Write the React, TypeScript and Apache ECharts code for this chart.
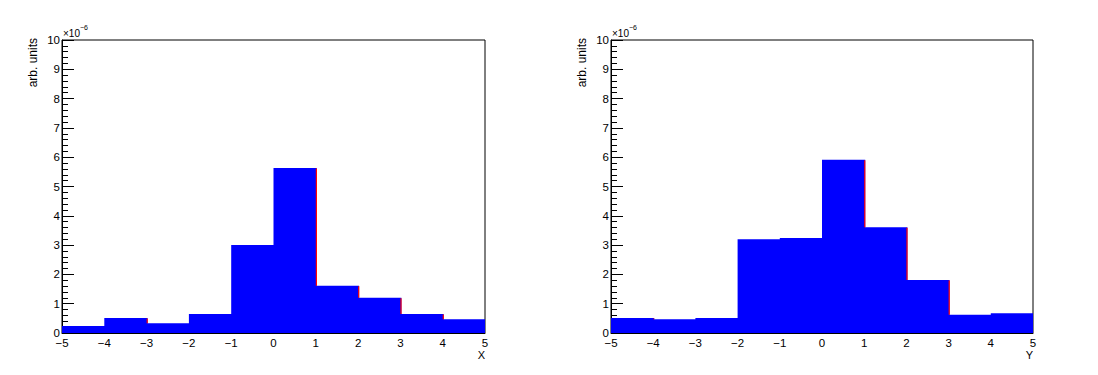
import React, { useEffect, useRef } from "react";
import * as echarts from "echarts";

// Histogram bin edges (shared by both panels)
const binEdges = [-5, -4, -3, -2, -1, 0, 1, 2, 3, 4, 5];
// Bin contents in units of 1e-6 (arb. units)
const xValues = [0.24, 0.51, 0.33, 0.65, 3.0, 5.63, 1.61, 1.2, 0.65, 0.47];
const yValues = [0.51, 0.47, 0.51, 3.2, 3.24, 5.91, 3.61, 1.81, 0.62, 0.67];
const yTicks = [0, 1, 2, 3, 4, 5, 6, 7, 8, 9, 10];
const exponentText = "\u00d710";
const exponentPower = "\u22126";
const xTitles = ["X", "Y"];
const yTitle = "arb. units";

const FONT = "Liberation Sans, Arial, Helvetica, sans-serif";
const FILL = "#0000ff";
const LINE = "#ff0000";

const grids = [
  { left: 62, top: 40, width: 423, height: 293 },
  { left: 611, top: 40, width: 422, height: 293 },
];

function binData(values: number[]) {
  return values.map((v, i) => [
    binEdges[i],
    binEdges[i + 1],
    v,
    i + 1 < values.length ? values[i + 1] : -1,
  ]);
}

function renderBin(params: any, api: any) {
  const x0 = api.value(0);
  const x1 = api.value(1);
  const v = api.value(2);
  const vNext = api.value(3);
  const pTop = api.coord([x0, v]);
  const pBot = api.coord([x1, 0]);
  const isLast = vNext < 0;
  const extra = isLast ? 0 : 1;
  const children: any[] = [
    {
      type: "rect",
      shape: {
        x: pTop[0],
        y: pTop[1],
        width: pBot[0] - pTop[0] + extra,
        height: pBot[1] - pTop[1],
      },
      style: { fill: FILL },
    },
  ];
  if (!isLast && vNext < v) {
    const pNext = api.coord([x1, vNext]);
    children.push({
      type: "line",
      shape: { x1: pBot[0] + 0.6, y1: pTop[1] + 0.5, x2: pBot[0] + 0.6, y2: pNext[1] },
      style: { stroke: LINE, lineWidth: 1.2 },
      z2: 10,
    });
  }
  return { type: "group", children };
}

const fmtX = (v: number) => (v < 0 ? "\u2212" + Math.abs(v) : String(v));

export default function App() {
  const ref = useRef<HTMLDivElement>(null);
  useEffect(() => {
    document.body.style.margin = "0";
    const chart = echarts.init(ref.current!, null, { renderer: "svg" });
    const series = [xValues, yValues].map((vals, k) => ({
      type: "custom",
      xAxisIndex: k,
      yAxisIndex: k,
      renderItem: renderBin,
      encode: { x: [0, 1], y: 2 },
      data: binData(vals),
      clip: true,
    }));
    const graphics: any[] = [];
    grids.forEach((g, k) => {
      graphics.push({
        type: "text",
        left: g.left + 1,
        top: g.top - 12,
        style: { text: exponentText, font: `10px ${FONT}`, fill: "#000" },
      });
      graphics.push({
        type: "text",
        left: g.left + 18,
        top: g.top - 16,
        style: { text: exponentPower, font: `7px ${FONT}`, fill: "#000" },
      });
      graphics.push({
        type: "text",
        x: g.left - 29,
        y: g.top - 2,
        rotation: Math.PI / 2,
        style: {
          text: yTitle,
          font: `12px ${FONT}`,
          fill: "#000",
          align: "right",
          verticalAlign: "middle",
        },
      });
      graphics.push({
        type: "text",
        x: g.left + g.width,
        y: g.top + g.height + 22,
        style: {
          text: xTitles[k],
          font: `11px ${FONT}`,
          fill: "#000",
          align: "right",
          verticalAlign: "middle",
        },
      });
    });
    chart.setOption({
      animation: false,
      backgroundColor: "#fff",
      grid: grids.map((g) => ({
        ...g,
        show: true,
        borderColor: "#000",
        borderWidth: 1,
        backgroundColor: "transparent",
      })),
      xAxis: grids.map((_, k) => ({
        type: "value",
        gridIndex: k,
        min: binEdges[0],
        max: binEdges[binEdges.length - 1],
        interval: 1,
        axisLine: { show: true, onZero: false, lineStyle: { color: "#000", width: 1 } },
        axisTick: { show: false },
        splitLine: { show: false },
        axisLabel: {
          color: "#000",
          fontFamily: FONT,
          fontSize: 11.5,
          lineHeight: 10,
          margin: 5,
          formatter: fmtX,
        },
      })),
      yAxis: grids.map((_, k) => ({
        type: "value",
        gridIndex: k,
        min: yTicks[0],
        max: yTicks[yTicks.length - 1],
        interval: 1,
        axisLine: { show: true, onZero: false, lineStyle: { color: "#000", width: 1 } },
        axisTick: { show: true, inside: true, length: 12, lineStyle: { color: "#000" } },
        minorTick: { show: true, splitNumber: 5, length: 6, lineStyle: { color: "#000" } },
        splitLine: { show: false },
        axisLabel: {
          color: "#000",
          fontFamily: FONT,
          fontSize: 11.5,
          lineHeight: 10,
          margin: 2,
          formatter: (v: number) => String(v),
        },
      })),
      series,
      graphic: graphics,
    });
    return () => chart.dispose();
  }, []);
  return (
    <div
      ref={ref}
      style={{ width: 1098, height: 375, position: "fixed", left: 0, top: 0, background: "#fff" }}
    />
  );
}
